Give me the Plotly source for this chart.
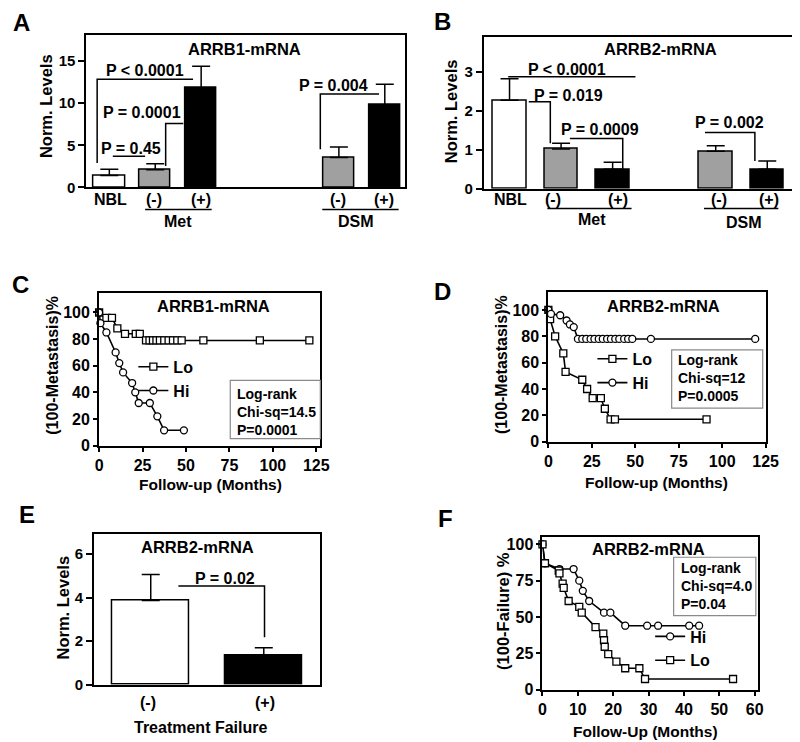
import plotly.graph_objects as go

W, H = 800, 742
FAM = "Liberation Sans, Arial, Helvetica, sans-serif"

# ---------------- data ----------------
a_groups = ["NBL", "Met (-)", "Met (+)", "DSM (-)", "DSM (+)"]
a_mean = [1.4, 2.1, 11.85, 3.55, 9.8]
a_sem = [0.75, 0.7, 2.55, 1.25, 2.45]

b_groups = ["NBL", "Met (-)", "Met (+)", "DSM (-)", "DSM (+)"]
b_mean = [2.27, 1.02, 0.5, 0.96, 0.5]
b_sem = [0.55, 0.15, 0.18, 0.14, 0.21]

e_groups = ["(-)", "(+)"]
e_mean = [3.87, 1.34]
e_sem = [1.2, 0.36]

# Panel C (ARRB1, metastasis-free)
c_lo_t = [0, 4.2, 7.4, 10.5, 14.9, 21.1, 23.4, 27, 29, 31, 33, 35, 37.5, 40, 42.5, 45, 47.5, 60, 92.5, 121]
c_lo_v = [100, 96, 96, 88, 84, 84, 84, 79, 79, 79, 79, 79, 79, 79, 79, 79, 79, 79, 79, 79]
c_hi_t = [0, 0.75, 4.2, 9.5, 11.6, 13.8, 19, 20.8, 22.8, 29.2, 33.5, 37.4, 48.8]
c_hi_v = [100, 92, 85, 70, 62, 55, 47, 40, 32, 32, 22, 11.5, 11.5]

# Panel D (ARRB2, metastasis-free)
d_lo_t = [0, 1, 3.9, 8.6, 9.9, 19.5, 22.3, 25.5, 30.2, 32.5, 35.8, 38.3, 91]
d_lo_v = [100, 93, 80, 67, 53, 47, 40, 33, 33, 25, 17, 17, 17]
d_hi_t = [0, 1.5, 6.8, 10.5, 12.4, 14.6, 17, 19.5, 21.8, 24.3, 26.5, 29, 31.3, 33.8, 36,
          38.5, 40.8, 43.6, 45.9, 48.3, 59, 119]
d_hi_v = [100, 97, 96, 92, 89, 87, 78, 78, 78, 78, 78, 78, 78, 78, 78,
          78, 78, 78, 78, 78, 78, 78]

# Panel F (ARRB2, failure-free)
f_hi_t = [0, 0.7, 4.8, 8.8, 10.4, 11.4, 13.2, 17.4, 19.2, 23.4, 29.6, 32.7, 41.5, 44.3]
f_hi_v = [100, 87, 83, 83, 75, 68, 61, 53, 53, 44, 44, 44, 44, 44]
f_lo_t = [0, 0.7, 4.6, 4.8, 5.7, 6.0, 7.4, 10.4, 11.1, 15, 17.2, 17.4, 17.6, 18.6, 20.9,
          23.4, 27.4, 29, 53.9]
f_lo_v = [100, 87, 82, 80, 73, 70, 61, 57, 53, 43, 38.5, 34, 29.5, 24.5, 19.3,
          14.7, 14.7, 7.3, 7.3]

# ---------------- layout helpers ----------------
def px(x):
    return x / W


def py(y):
    return 1 - y / H


BAR_FILL = ["white", "#a0a0a0", "black", "#a0a0a0", "black"]
E_FILL = ["white", "black"]
a_slot = [0, 1, 2, 5, 6]
b_slot = [0, 1, 2, 4, 5]
e_slot = [0, 1]

fig = go.Figure()


def bar_trace(slots, mean, sem, fills, width, ax):
    return go.Bar(
        x=slots, y=mean, width=width,
        marker=dict(color=fills, line=dict(color="black", width=1.5)),
        error_y=dict(type="data", symmetric=False, array=sem,
                     arrayminus=[0] * len(sem), color="black",
                     thickness=1.5, width=9),
        xaxis="x" + ax, yaxis="y" + ax, showlegend=False, hoverinfo="skip",
    )


fig.add_trace(bar_trace(a_slot, a_mean, a_sem, BAR_FILL, 0.68, ""))
fig.add_trace(bar_trace(b_slot, b_mean, b_sem, BAR_FILL, 0.65, "2"))
fig.add_trace(bar_trace(e_slot, e_mean, e_sem, E_FILL, 0.675, "5"))


def km(t, v, name, symbol, ax, legend):
    return go.Scatter(
        x=t, y=v, name=name, mode="lines+markers",
        line=dict(color="black", width=1.6),
        marker=dict(symbol=symbol, size=7, color="white",
                    line=dict(color="black", width=1.3)),
        xaxis="x" + ax, yaxis="y" + ax, legend=legend, cliponaxis=False,
    )


fig.add_trace(km(c_lo_t, c_lo_v, "Lo", "square", "3", "legend"))
fig.add_trace(km(c_hi_t, c_hi_v, "Hi", "circle", "3", "legend"))
fig.add_trace(km(d_lo_t, d_lo_v, "Lo", "square", "4", "legend2"))
fig.add_trace(km(d_hi_t, d_hi_v, "Hi", "circle", "4", "legend2"))
fig.add_trace(km(f_hi_t, f_hi_v, "Hi", "circle", "6", "legend3"))
fig.add_trace(km(f_lo_t, f_lo_v, "Lo", "square", "6", "legend3"))

# ---------------- axes ----------------
TICKFONT = dict(family=FAM, size=15, color="black", weight="bold")
KMTICK = dict(family=FAM, size=16, color="black", weight="bold")


def axis(dom, rng, **kw):
    d = dict(domain=dom, range=rng, showline=True, linecolor="black", linewidth=2,
             mirror=True, ticks="outside", ticklen=6, tickwidth=2, tickcolor="black",
             showgrid=False, zeroline=False, tickfont=TICKFONT, fixedrange=True)
    d.update(kw)
    return d


def xdom(a, b):
    return [px(a), px(b)]


def ydom(top, bottom):
    return [py(bottom), py(top)]


nolab = dict(ticks="", showticklabels=False)

fig.update_layout(
    xaxis=axis(xdom(76, 402), [-0.5, 6.45], **nolab),
    yaxis=axis(ydom(27, 181.5), [0, 18.15], tickvals=[0, 5, 10, 15], anchor="x"),
    xaxis2=axis(xdom(482, 798), [-0.5, 5.5], anchor="y2", **nolab),
    yaxis2=axis(ydom(29, 183), [0, 3.9], tickvals=[0, 1, 2, 3], anchor="x2"),
    xaxis3=axis(xdom(89, 315), [0, 127.3], tickvals=[0, 25, 50, 75, 100, 125],
                anchor="y3", tickfont=KMTICK, ticklen=4),
    yaxis3=axis(ydom(288, 443), [0, 115], tickvals=[0, 20, 40, 60, 80, 100],
                anchor="x3", tickfont=KMTICK, ticklen=4),
    xaxis4=axis(xdom(548, 770), [0, 125], tickvals=[0, 25, 50, 75, 100, 125],
                anchor="y4", tickfont=KMTICK, ticklen=4),
    yaxis4=axis(ydom(287, 439), [0, 114], tickvals=[0, 20, 40, 60, 80, 100],
                anchor="x4", tickfont=KMTICK, ticklen=4),
    xaxis5=axis(xdom(84, 315), [-0.5, 1.5], anchor="y5", **nolab),
    yaxis5=axis(ydom(532, 685), [0, 6.95], tickvals=[0, 2, 4, 6], anchor="x5"),
    xaxis6=axis(xdom(542, 762), [0, 60.9], tickvals=[0, 10, 20, 30, 40, 50, 60],
                anchor="y6", tickfont=KMTICK, ticklen=4),
    yaxis6=axis(ydom(535, 690), [0, 105.4], tickvals=[0, 25, 50, 75, 100],
                anchor="x6", tickfont=KMTICK, ticklen=4),
)

# ---------------- legends ----------------
def leg(x, y):
    return dict(x=px(x), y=py(y), xanchor="left", yanchor="top",
                font=dict(family=FAM, size=16, color="black", weight="bold"),
                bgcolor="rgba(0,0,0,0)", borderwidth=0, itemwidth=30,
                tracegroupgap=0, traceorder="normal")


fig.update_layout(legend=leg(124, 346), legend2=leg(593, 338), legend3=leg(652, 619))

# ---------------- annotations ----------------
ann = []
shapes = []


def txt(x, y, s, size=16, xanchor="center", angle=0, align="center"):
    ann.append(dict(x=px(x), y=py(y), xref="paper", yref="paper", text=s,
                    showarrow=False, xanchor=xanchor, yanchor="middle",
                    textangle=angle, align=align,
                    font=dict(family=FAM, size=size, color="black", weight="bold")))


def path(pts, color="black", width=1.5):
    d = "M" + " L".join(f"{px(x):.5f},{py(y):.5f}" for x, y in pts)
    shapes.append(dict(type="path", path=d, xref="paper", yref="paper",
                       line=dict(color=color, width=width)))


def box(x0, y0, x1, y1):
    shapes.append(dict(type="rect", x0=px(x0), x1=px(x1), y0=py(y1), y1=py(y0),
                       xref="paper", yref="paper",
                       line=dict(color="#8a8a8a", width=1.2)))


# panel letters
for letter, x, y in [("A", 10, 15), ("B", 440, 14), ("C", 9, 280),
                     ("D", 440, 287), ("E", 15, 513), ("F", 443, 517)]:
    txt(x, y, letter, size=24)

# --- Panel A ---
txt(238, 42, "ARRB1-mRNA", 16.5)
txt(35, 99, "Norm. Levels", 16.5, angle=-90)
txt(136, 63, "P < 0.0001")
txt(133, 106, "P = 0.0001")
txt(122, 142, "P = 0.45")
txt(328, 78, "P = 0.004")
path([(87, 157), (87, 72), (185, 72)])
path([(103, 150), (136, 150)])
path([(157, 160), (157, 117), (175, 117)])
path([(315, 143), (315, 87), (375, 87)])
for g, xs in zip(a_groups, [101, 145, 193, 333, 380]):
    txt(xs, 193.5, g.split()[-1])
path([(136, 204), (204, 204)])
path([(317, 204), (395, 204)])
txt(170, 216, "Met")
txt(351, 216, "DSM")

# --- Panel B ---
txt(663, 42, "ARRB2-mRNA", 16.5)
txt(448, 104, "Norm. Levels", 16.5, angle=-90)
txt(567, 62, "P < 0.0001")
txt(569, 89, "P = 0.019")
txt(601, 123, "P = 0.0009")
txt(733, 116, "P = 0.002")
path([(507, 69.5), (637, 69.5)])
path([(528, 95), (550, 95), (550, 137)])
path([(570, 132), (624, 132), (624, 163)])
path([(708, 126), (759, 126), (759, 155)])
for g, xs in zip(b_groups, [509, 553, 619, 722, 773]):
    txt(xs, 194, g.split()[-1])
path([(547, 203), (633, 203)])
path([(707, 203), (783, 203)])
txt(593, 214, "Met")
txt(748, 217, "DSM")

# --- Panel C ---
txt(206, 302, "ARRB1-mRNA", 16.5)
txt(42, 362, "(100-Metastasis)%", 16, angle=-90)
txt(203, 482, "Follow-up (Months)", 15.5)
box(223, 377, 315, 436)
txt(228, 409, "Log-rank<br>Chi-sq=14.5<br>P=0.0001", 14, "left", align="left")

# --- Panel D ---
txt(666, 302, "ARRB2-mRNA", 16.5)
txt(500, 361, "(100-Metastasis)%", 16, angle=-90)
txt(659, 480, "Follow-up (Months)", 15.5)
box(674, 346, 767, 405)
txt(678, 375, "Log-rank<br>Chi-sq=12<br>P=0.0005", 14, "left", align="left")

# --- Panel E ---
txt(190, 546, "ARRB2-mRNA", 16.5)
txt(52, 607, "Norm. Levels", 16.5, angle=-90)
txt(217.5, 578, "P = 0.02")
path([(170, 585), (258, 585), (258, 637)])
for g, xs in zip(e_groups, [139, 259]):
    txt(xs, 703, g)
txt(193, 728, "Treatment Failure")

# --- Panel F ---
txt(650, 548, "ARRB2-mRNA", 16.5)
txt(501, 610, "(100-Failure) %", 16.5, angle=-90)
txt(647, 732, "Follow-Up (Months)", 15.5)
box(676, 556, 760, 615)
txt(681, 585.5, "Log-rank<br>Chi-sq=4.0<br>P=0.04", 14, "left", align="left")

fig.update_layout(
    annotations=ann, shapes=shapes,
    width=W, height=H, margin=dict(l=0, r=0, t=0, b=0),
    paper_bgcolor="white", plot_bgcolor="white",
    font=dict(family=FAM, color="black"),
    bargap=0,
)

fig.write_html("out.html")
